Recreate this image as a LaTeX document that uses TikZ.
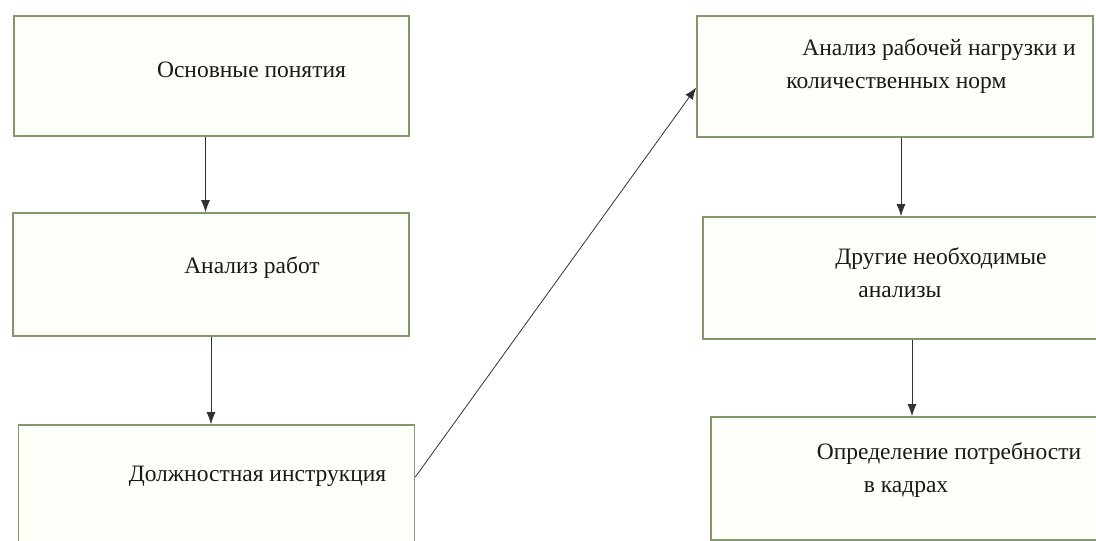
\documentclass[tikz,border=0pt]{standalone}
\usepackage{fontspec}
\setmainfont{Liberation Serif}
\usetikzlibrary{arrows.meta, positioning}
\definecolor{boxline}{RGB}{128,152,108}
\definecolor{boxfill}{RGB}{253,255,249}
\definecolor{arrowgray}{RGB}{50,50,50}

\begin{document}
\begin{tikzpicture}[
        x=1pt, y=-1pt,
        box/.style={rectangle, draw=boxline, fill=boxfill, line width=1.6pt, minimum width=396pt, minimum height=122pt, inner sep=0pt},
        txt/.style={align=left, inner sep=0pt, text=black!90, font=\fontsize{23.5}{33}\selectfont},
        line/.style={draw=arrowgray, line width=0.8pt, -{Latex[length=12pt,width=9pt]}}
    ]
    \path[use as bounding box, clip] (0,0) rectangle (1096,541);

    % Left column
    \node[box, minimum width=395pt, minimum height=120pt] (concepts) at (211.5,76) {};
    \node[box, minimum height=123pt] (jobs) at (211,274.5) {};
    \node[box, minimum height=130pt] (duties) at (216.5,490) {};

    % Right column
    \node[box, minimum height=121pt] (workload) at (895,76.5) {};
    \node[box] (other) at (901,278) {};
    \node[box, minimum height=123pt] (staff) at (909,478.5) {};

    % Texts
    \node[txt, xshift=40pt, yshift=6pt] (concepts-t) at (concepts) {Основные понятия};
    \node[txt, xshift=41pt, yshift=7pt] (jobs-t) at (jobs) {Анализ работ};
    \node[txt, xshift=41pt, yshift=14pt] (duties-t) at (duties) {Должностная инструкция};
    \node[txt, xshift=36pt, yshift=10pt] (workload-t) at (workload) {\hspace*{16pt}Анализ рабочей нагрузки и\\количественных норм};
    \node[txt, xshift=40pt, yshift=5pt] (other-t) at (other) {Другие необходимые\\\hspace*{23pt}анализы};
    \node[txt, xshift=40pt, yshift=8pt] (staff-t) at (staff) {Определение потребности\\\hspace*{47pt}в кадрах};

    % Connections
    \path[line] ([xshift=-6pt]concepts.south) -- ([xshift=-6pt]concepts.south |- jobs.north);
    \path[line] (jobs.south) -- (jobs.south |- duties.north);
    \path[line] ([yshift=13pt]duties.east) -- ([yshift=-11pt]workload.west);
    \path[line] (other.north |- workload.south) -- (other.north);
    \path[line] ([xshift=3pt]staff.north |- other.south) -- ([xshift=3pt]staff.north);

\end{tikzpicture}
\end{document}
